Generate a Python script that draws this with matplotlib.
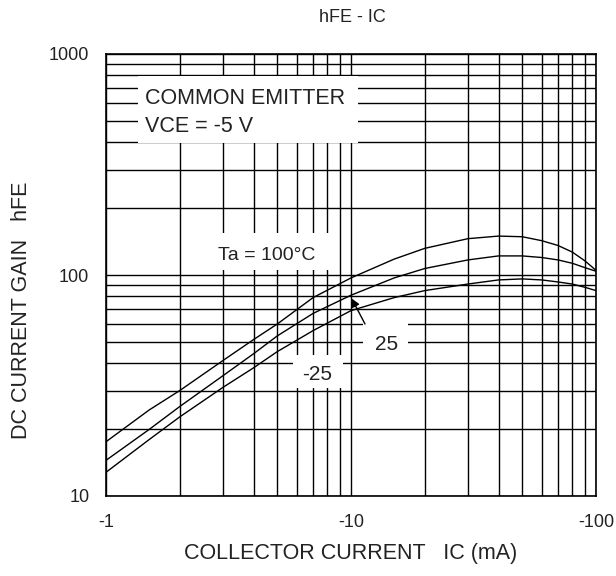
import matplotlib
matplotlib.use("Agg")
import matplotlib.pyplot as plt
from matplotlib.patches import Rectangle
from matplotlib.ticker import FixedLocator, FixedFormatter, NullFormatter

plt.rcParams['font.family'] = ['Liberation Sans', 'DejaVu Sans']

# ---- data ----
ic = [1, 1.5, 2, 3, 4, 5, 7, 10, 15, 20, 30, 40, 50, 60, 70, 80, 90, 100]
hfe_100 = [17.6, 24.5, 30, 41, 51, 60, 79, 97, 118, 132, 146, 150, 149, 143, 136, 127, 116, 105]
hfe_25 = [14.5, 20.0, 25.4, 35, 44, 53, 67, 81, 97, 107, 117, 122, 122, 120, 117, 113, 108, 104]
hfe_m25 = [12.8, 18.0, 22.8, 31, 38, 45, 56, 69, 79, 85, 91, 95, 96, 95, 93, 91, 88, 85]

x_ticks = [1, 10, 100]
x_tick_labels = ['-1', '-10', '-100']
y_ticks = [10, 100, 1000]
y_tick_labels = ['10', '100', '1000']

title = 'hFE - IC'
xlabel = 'COLLECTOR CURRENT   IC (mA)'
ylabel = 'DC CURRENT GAIN   hFE'

W, H = 616, 576
fig = plt.figure(figsize=(W / 100, H / 100), dpi=100)
L, R, T, B = 106, 596, 54, 496
ax = fig.add_axes([L / W, 1 - B / H, (R - L) / W, (B - T) / H])

ax.set_xscale('log')
ax.set_yscale('log')
ax.set_xlim(1, 100)
ax.set_ylim(10, 1000)
ax.set_axisbelow(True)
ax.grid(True, which='both', color='black', lw=1.0)
ax.tick_params(which='both', length=0, labelsize=13, colors='#222222')
ax.tick_params(axis='y', pad=12)
ax.tick_params(axis='x', pad=13)
ax.xaxis.set_major_locator(FixedLocator(x_ticks))
ax.xaxis.set_major_formatter(FixedFormatter(x_tick_labels))
ax.xaxis.set_minor_formatter(NullFormatter())
ax.yaxis.set_major_locator(FixedLocator(y_ticks))
ax.yaxis.set_major_formatter(FixedFormatter(y_tick_labels))
ax.yaxis.set_minor_formatter(NullFormatter())
for s in ax.spines.values():
    s.set_linewidth(1.2)

for ys in (hfe_100, hfe_25, hfe_m25):
    ax.plot(ic, ys, color='black', lw=1.0, zorder=3)

def ax_x(px):
    return (px - L) / (R - L)

def ax_y(py):
    return (B - py) / (B - T)

def box(x0, y0, x1, y1):
    ax.add_patch(Rectangle((ax_x(x0), ax_y(y1)), ax_x(x1) - ax_x(x0), ax_y(y0) - ax_y(y1),
                           transform=ax.transAxes, facecolor='white', edgecolor='none', zorder=4))

tc = '#222222'
box(138, 76, 358, 143)
ax.text(ax_x(145), ax_y(103.5), 'COMMON EMITTER', transform=ax.transAxes, fontsize=15.5,
        ha='left', va='baseline', color=tc, zorder=5)
ax.text(ax_x(145), ax_y(131.5), 'VCE = -5 V', transform=ax.transAxes, fontsize=15.5,
        ha='left', va='baseline', color=tc, zorder=5)

box(200, 233, 333, 270)
ax.text(ax_x(218), ax_y(260), 'Ta = 100°C', transform=ax.transAxes, fontsize=14,
        ha='left', va='baseline', color=tc, zorder=5)

box(363, 316, 408, 356)
ax.text(ax_x(386.5), ax_y(349.5), '25', transform=ax.transAxes, fontsize=15,
        ha='center', va='baseline', color=tc, zorder=5)

box(293, 355, 343, 388)
ax.text(ax_x(317), ax_y(380), '-25', transform=ax.transAxes, fontsize=15,
        ha='center', va='baseline', color=tc, zorder=5)

ax.annotate('', xy=(ax_x(351.7), ax_y(298.5)), xytext=(ax_x(365), ax_y(324)),
            xycoords='axes fraction', textcoords='axes fraction',
            arrowprops=dict(arrowstyle='-|>', color='black', lw=1.0, mutation_scale=12,
                            shrinkA=0, shrinkB=0), zorder=6)

fig.text(352 / W, 1 - 18 / H, title, ha='center', va='center', fontsize=13, color=tc)
fig.text(351 / W, 1 - 553 / H, xlabel, ha='center', va='center', fontsize=15.5, color=tc)
fig.text(22 / W, 1 - 310 / H, ylabel, ha='center', va='center', rotation=90, fontsize=15.5, color=tc)

fig.savefig('out.png', dpi=100, facecolor='white')
